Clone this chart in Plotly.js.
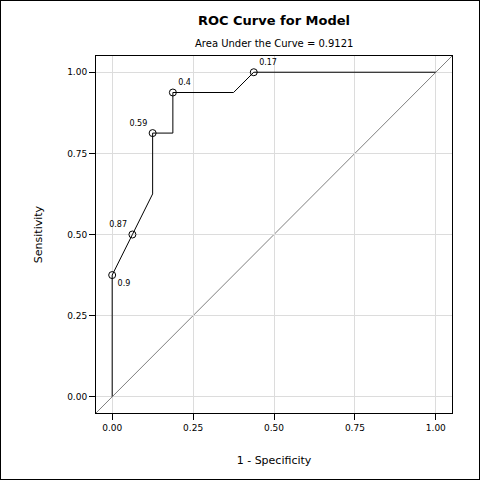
<!DOCTYPE html>
<html>
<head>
<meta charset="utf-8">
<script src="https://cdn.plot.ly/plotly-3.0.1.min.js"></script>
<style>
  html, body { margin: 0; padding: 0; background: #fff; }
  #chart { width: 478px; height: 478px; border: 1px solid #000; }
</style>
</head>
<body>
<div id="chart"></div>
<script>
// ROC curve vertices (1 - specificity, sensitivity)
const fpr = [0, 0, 0.0625, 0.125, 0.125, 0.1875, 0.1875, 0.375, 0.4375, 1];
const tpr = [0, 0.375, 0.5, 0.625, 0.8125, 0.8125, 0.9375, 0.9375, 1, 1];

// Cutoff points marked with their probability thresholds
const cutFpr = [0, 0.0625, 0.125, 0.1875, 0.4375];
const cutTpr = [0.375, 0.5, 0.8125, 0.9375, 1];
const cutLabels = ['0.9', '0.87', '0.59', '0.4', '0.17'];
const cutLabelPos = ['bottom right', 'top left', 'top left', 'top right', 'top right'];

const tickVals = [0, 0.25, 0.5, 0.75, 1];
const tickText = ['0.00', '0.25', '0.50', '0.75', '1.00'];
const auc = 0.9121;

const FONT = 'DejaVu Sans, sans-serif';

const traces = [
  {
    x: fpr, y: tpr,
    type: 'scatter', mode: 'lines',
    line: { color: '#000', width: 1 },
    hoverinfo: 'skip', showlegend: false
  },
  {
    x: cutFpr, y: cutTpr, text: cutLabels,
    type: 'scatter', mode: 'markers+text',
    textposition: cutLabelPos,
    textfont: { family: FONT, size: 8, color: '#000' },
    marker: { symbol: 'circle-open', size: 7, color: '#000', line: { width: 1, color: '#000' } },
    showlegend: false
  }
];

const axisCommon = {
  range: [-0.05, 1.05],
  tickvals: tickVals, ticktext: tickText,
  ticks: 'outside', ticklen: 6, tickwidth: 1, tickcolor: '#000',
  showline: true, linecolor: '#000', linewidth: 1, mirror: true,
  showgrid: true, gridcolor: '#dcdcdc', gridwidth: 1,
  zeroline: false,
  tickfont: { family: FONT, size: 9, color: '#000' }
};

const layout = {
  width: 478, height: 478,
  margin: { l: 95, r: 27, t: 55, b: 66 },
  paper_bgcolor: '#fff', plot_bgcolor: '#fff',
  font: { family: FONT, color: '#000' },
  showlegend: false,
  title: {
    text: '<b>ROC Curve for Model</b>',
    font: { family: FONT, size: 13, color: '#000' },
    xref: 'paper', x: 0.5, xanchor: 'center',
    yref: 'container', y: 1 - 19 / 478, yanchor: 'middle'
  },
  xaxis: Object.assign({}, axisCommon, {
    title: { text: '1 - Specificity', font: { family: FONT, size: 11, color: '#000' }, standoff: 24 }
  }),
  yaxis: Object.assign({}, axisCommon, {
    title: { text: 'Sensitivity', font: { family: FONT, size: 11, color: '#000' }, standoff: 22 }
  }),
  shapes: [
    // chance diagonal, corner to corner of the plot area
    { type: 'line', xref: 'paper', yref: 'paper', x0: 0, y0: 0, x1: 1, y1: 1,
      line: { color: '#7f7f7f', width: 1 }, layer: 'below' }
  ],
  annotations: [
    { text: 'Area Under the Curve = ' + auc.toFixed(4),
      xref: 'paper', x: 0.5, xanchor: 'center',
      yref: 'paper', y: 1, yanchor: 'bottom', yshift: 5,
      showarrow: false, font: { family: FONT, size: 10, color: '#000' } }
  ]
};

Plotly.newPlot('chart', traces, layout, { staticPlot: true, displayModeBar: false });
</script>
</body>
</html>
